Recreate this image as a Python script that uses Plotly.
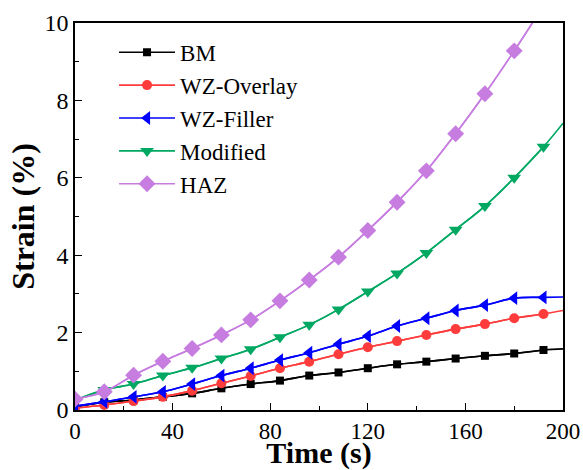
import plotly.graph_objects as go

# Data
time_s = [0, 12, 24, 36, 48, 60, 72, 84, 96, 108, 120, 132, 144, 156, 168, 180, 192]
t_end = 200

bm = [0.08, 0.20, 0.26, 0.34, 0.43, 0.56, 0.67, 0.76, 0.89, 0.97, 1.08, 1.18, 1.25, 1.33, 1.40, 1.46, 1.55]
bm_end = 1.58
wz_overlay = [0.05, 0.13, 0.23, 0.34, 0.50, 0.69, 0.88, 1.08, 1.25, 1.44, 1.62, 1.78, 1.94, 2.09, 2.22, 2.37, 2.48]
wz_overlay_end = 2.57
wz_filler = [0.10, 0.21, 0.34, 0.47, 0.67, 0.89, 1.08, 1.29, 1.48, 1.70, 1.91, 2.17, 2.37, 2.57, 2.71, 2.89, 2.91]
wz_filler_end = 2.92
modified = [0.25, 0.52, 0.67, 0.89, 1.09, 1.33, 1.57, 1.88, 2.20, 2.60, 3.06, 3.53, 4.06, 4.66, 5.27, 6.00, 6.80]
modified_end = 7.41
haz = [0.28, 0.47, 0.90, 1.26, 1.59, 1.94, 2.33, 2.82, 3.36, 3.95, 4.64, 5.37, 6.18, 7.14, 8.17, 9.28, 10.45]
haz_end = 11.3

series = [
    ("BM", bm, bm_end, "#000000", "square", 8),
    ("WZ-Overlay", wz_overlay, wz_overlay_end, "#FF3C3C", "circle", 10),
    ("WZ-Filler", wz_filler, wz_filler_end, "#0000FF", "triangle-left", 12),
    ("Modified", modified, modified_end, "#00A862", "triangle-down", 12),
    ("HAZ", haz, haz_end, "#C77DE0", "diamond", 13),
]

FONT = "Liberation Serif"

fig = go.Figure()
for name, vals, end, color, sym, size in series:
    fig.add_trace(go.Scatter(
        x=time_s + [t_end], y=vals + [end], mode="lines",
        line=dict(color=color, width=1.6, shape="spline"),
        showlegend=False, hoverinfo="skip",
    ))
    fig.add_trace(go.Scatter(
        x=time_s, y=vals, mode="lines+markers", name=name,
        line=dict(color=color, width=1.6, shape="spline"),
        marker=dict(symbol=sym, size=size, color=color, line=dict(width=0)),
    ))

axis_common = dict(
    showline=True, linecolor="black", linewidth=1.5, mirror=True,
    ticks="inside", ticklen=7, tickwidth=1.3, tickcolor="black",
    showgrid=False, zeroline=False, automargin=False,
    tickfont=dict(family=FONT, size=24, color="black"),
)

fig.update_xaxes(
    range=[0, 200], tick0=0, dtick=40,
    minor=dict(ticks="inside", dtick=20, ticklen=4, tickwidth=1.3, tickcolor="black"),
    title=dict(text="<b>Time (s)</b>", font=dict(family=FONT, size=30, color="black"), standoff=4),
    **axis_common,
)
fig.update_xaxes(tickfont=dict(size=23))
fig.update_yaxes(
    range=[0, 10], tick0=0, dtick=2,
    minor=dict(ticks="inside", dtick=1, ticklen=4, tickwidth=1.3, tickcolor="black"),
    title=dict(text="<b>Strain (%)</b>", font=dict(family=FONT, size=32, color="black"), standoff=0),
    **axis_common,
)

fig.update_layout(
    width=583, height=470,
    margin=dict(l=75, r=20, t=23, b=60),
    paper_bgcolor="white", plot_bgcolor="white",
    font=dict(family=FONT, color="black"),
    legend=dict(
        x=0.08, y=0.98, xanchor="left", yanchor="top",
        bgcolor="rgba(0,0,0,0)", borderwidth=0,
        font=dict(family=FONT, size=23, color="black"),
        itemwidth=56, tracegroupgap=0,
    ),
)

fig.write_html("out.html")
